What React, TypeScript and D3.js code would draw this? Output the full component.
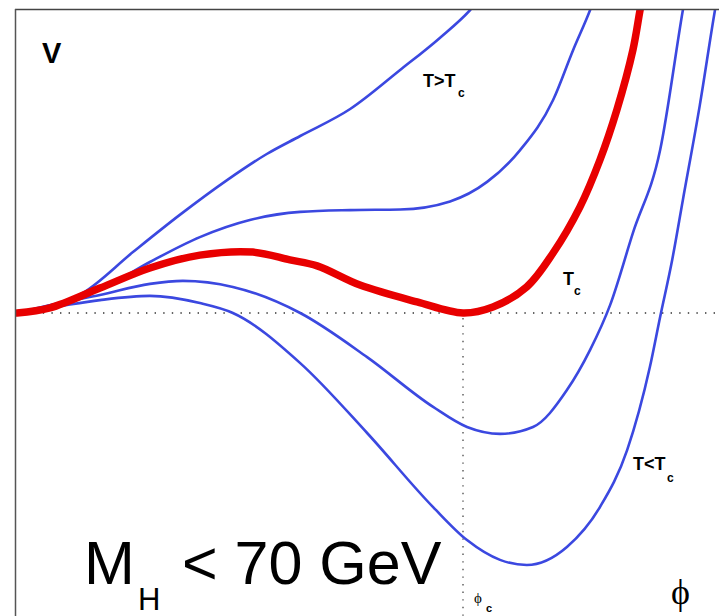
import React from 'react';
import * as d3 from 'd3';

// phi in units of phi_c, V in arbitrary units (V=0 on the dotted line)
type Pt = [number, number];

const hotCurve: Pt[] = [
  [0, 0], [0.07, 0.015], [0.148, 0.067], [0.26, 0.203], [0.365, 0.327], [0.471, 0.443],
  [0.56, 0.53], [0.635, 0.59], [0.747, 0.68], [0.859, 0.81], [0.948, 0.917],
  [1.016, 1.01], [1.05, 1.07],
];
const warmCurve: Pt[] = [
  [0, 0], [0.096, 0.033], [0.186, 0.077], [0.298, 0.17], [0.41, 0.253], [0.522, 0.31],
  [0.635, 0.337], [0.747, 0.343], [0.859, 0.345], [0.971, 0.372], [1.054, 0.437], [1.128, 0.543],
  [1.202, 0.71], [1.247, 0.877], [1.285, 1.01], [1.3, 1.07],
];
const criticalCurve: Pt[] = [
  [0, 0], [0.074, 0.017], [0.186, 0.083], [0.298, 0.15], [0.41, 0.193], [0.529, 0.203],
  [0.612, 0.177], [0.673, 0.157], [0.769, 0.093], [0.897, 0.037], [1.0, 0.0], [1.067, 0.02],
  [1.143, 0.087], [1.202, 0.2], [1.262, 0.353], [1.307, 0.51], [1.345, 0.677], [1.381, 0.877],
  [1.397, 1.01], [1.405, 1.07],
];
const coolCurve: Pt[] = [
  [0, 0], [0.096, 0.033], [0.186, 0.06], [0.298, 0.097], [0.372, 0.107], [0.484, 0.087],
  [0.635, 0], [0.785, -0.147], [0.933, -0.313], [1.009, -0.38], [1.083, -0.403], [1.157, -0.38],
  [1.233, -0.257], [1.285, -0.123], [1.33, 0.027], [1.381, 0.267], [1.442, 0.543], [1.493, 1.01],
  [1.5, 1.07],
];
const coldCurve: Pt[] = [
  [0, 0], [0.096, 0.023], [0.186, 0.043], [0.298, 0.057], [0.41, 0.033], [0.484, 0],
  [0.635, -0.167], [0.785, -0.4], [0.933, -0.647], [1.009, -0.757], [1.083, -0.823], [1.143, -0.84],
  [1.233, -0.78], [1.307, -0.647], [1.368, -0.457], [1.419, -0.18], [1.442, -0.013], [1.469, 0.177],
  [1.493, 0.377], [1.531, 0.693], [1.565, 1.01], [1.572, 1.07],
];

const blueCurves = [hotCurve, warmCurve, coolCurve, coldCurve];
const phiC = 1;

const W = 719;
const H = 616;

export default function App() {
  const x = d3.scaleLinear().domain([0, phiC]).range([17, 463]);
  const y = d3.scaleLinear().domain([0, 1]).range([313, 13]);

  const smooth = d3.line<Pt>().x(d => x(d[0])).y(d => y(d[1])).curve(d3.curveMonotoneX);
  const hand = d3.line<Pt>().x(d => x(d[0])).y(d => y(d[1])).curve(d3.curveCatmullRom.alpha(0.5));

  const bold = { fontFamily: 'Liberation Sans, Arial, sans-serif', fontWeight: 700 };
  const plain = { fontFamily: 'Liberation Sans, Arial, sans-serif' };
  const serif = { fontFamily: 'Liberation Serif, Times New Roman, serif' };

  return (
    <svg width={W} height={H} style={{ position: 'absolute', left: 0, top: 0, background: '#fff' }}>
      <defs>
        <clipPath id="plot">
          <rect x={15} y={10} width={W - 15} height={H - 10} />
        </clipPath>
      </defs>

      {/* zero line and phi_c marker */}
      <line x1={17} x2={W} y1={y(0)} y2={y(0)} stroke="#333" strokeWidth={1.4} strokeDasharray="1.4 7.2" />
      <line x1={x(phiC)} x2={x(phiC)} y1={y(0) + 5} y2={H} stroke="#555" strokeWidth={1.4} strokeDasharray="1.4 6.2" />

      <g clipPath="url(#plot)">
        {blueCurves.map((c, i) => (
          <path key={i} d={smooth(c) || ''} fill="none" stroke="#3b48e0" strokeWidth={2.6} />
        ))}
        <path d={hand(criticalCurve) || ''} fill="none" stroke="#e80000" strokeWidth={7.5}
          strokeLinejoin="round" strokeLinecap="round" />
      </g>

      {/* frame */}
      <line x1={15} x2={W} y1={9.5} y2={9.5} stroke="#444" strokeWidth={1.5} />
      <line x1={15.5} x2={15.5} y1={9} y2={H} stroke="#555" strokeWidth={1.5} />

      <text x={42} y={63} fontSize={29} style={bold}>V</text>

      <text x={423} y={87} fontSize={18} style={bold}>T&gt;T</text>
      <text x={458} y={97} fontSize={12} style={bold}>c</text>

      <text x={563} y={285} fontSize={18} style={bold}>T</text>
      <text x={574} y={295} fontSize={12} style={bold}>c</text>

      <text x={633} y={470} fontSize={18} style={bold}>T&lt;T</text>
      <text x={667} y={482} fontSize={12} style={bold}>c</text>

      <text x={474} y={603} fontSize={15} style={serif}>ϕ</text>
      <text x={486} y={612} fontSize={11} style={bold}>c</text>

      <text x={671} y={604} fontSize={36} style={serif}>ϕ</text>

      <text x={84} y={584} fontSize={61} style={plain}>M</text>
      <text x={138} y={610} fontSize={31} style={plain}>H</text>
      <text x={182} y={584} fontSize={61} style={plain}>&lt; 70 GeV</text>
    </svg>
  );
}
